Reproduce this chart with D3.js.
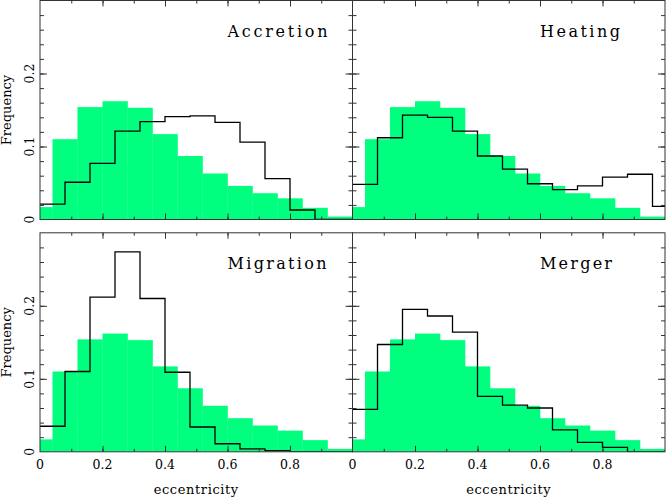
<!DOCTYPE html>
<html>
<head>
<meta charset="utf-8">
<script src="https://cdn.jsdelivr.net/npm/d3@7"></script>
<style>
  html, body { margin: 0; padding: 0; background: #fff; }
  svg { display: block; }
  text { font-family: "DejaVu Serif", "Liberation Serif", serif; fill: #000; }
</style>
</head>
<body>
<svg id="chart" width="667" height="500"></svg>
<script>
// ---- data ----
const greenBinCenters = [0, 0.08, 0.16, 0.24, 0.32, 0.40, 0.48, 0.56, 0.64, 0.72, 0.80, 0.88, 0.96];
const greenFreq = [0.017, 0.110, 0.154, 0.162, 0.153, 0.117, 0.087, 0.063, 0.046, 0.036, 0.029, 0.016, 0.004];

const lineBinStarts = [0, 0.08, 0.16, 0.24, 0.32, 0.40, 0.48, 0.56, 0.64, 0.72, 0.80, 0.88, 0.96];
const accretionFreq = [0.021, 0.051, 0.077, 0.121, 0.134, 0.141, 0.142, 0.133, 0.106, 0.056, 0.013, 0, 0];
const heatingFreq   = [0.048, 0.112, 0.143, 0.140, 0.121, 0.087, 0.069, 0.049, 0.041, 0.046, 0.058, 0.062, 0.018];
const migrationFreq = [0.035, 0.110, 0.212, 0.274, 0.210, 0.109, 0.034, 0.011, 0.004, 0.0015, 0, 0, 0];
const mergerFreq    = [0.058, 0.147, 0.195, 0.186, 0.164, 0.076, 0.064, 0.060, 0.030, 0.013, 0.006, 0, 0];

const panelNames = ["Accretion", "Heating", "Migration", "Merger"];
const panelSeries = [accretionFreq, heatingFreq, migrationFreq, mergerFreq];

const xTickLabels = [0, 0.2, 0.4, 0.6, 0.8];
const yTickLabels = [0, 0.1, 0.2];
const xLabel = "eccentricity";
const yLabel = "Frequency";

// ---- layout ----
const svg = d3.select("#chart");
const colX = [40, 352.5];
const rowY = [0.5, 232.8];
const pw = 312.5, ph = 219;
const labelWidths = {"Accretion": 100, "Heating": 80, "Migration": 99, "Merger": 72};

panelNames.forEach((name, i) => {
  const col = i % 2, row = Math.floor(i / 2);
  const x = d3.scaleLinear().domain([0, 1]).range([colX[col], colX[col] + pw]);
  const y = d3.scaleLinear().domain([0, 0.3]).range([rowY[row] + ph, rowY[row]]);
  const g = svg.append("g");

  const clipId = "clip" + i;
  svg.append("clipPath").attr("id", clipId).append("rect")
    .attr("x", x(0)).attr("y", y(0.3)).attr("width", pw).attr("height", ph);

  // green histogram
  g.append("g").attr("clip-path", `url(#${clipId})`)
    .selectAll("rect").data(greenBinCenters.map((c, k) => ({c, v: greenFreq[k]})))
    .join("rect")
    .attr("x", d => x(Math.max(0, d.c - 0.04)))
    .attr("width", d => x(Math.min(1, d.c + 0.04)) - x(Math.max(0, d.c - 0.04)) + 0.3)
    .attr("y", d => y(d.v))
    .attr("height", d => y(0) - y(d.v))
    .attr("fill", "#00ff7f");

  // black step line
  const vals = panelSeries[i];
  const pts = lineBinStarts.map((s, k) => [s, vals[k]]);
  pts.push([1, vals[vals.length - 1]]);
  g.append("path")
    .attr("clip-path", `url(#${clipId})`)
    .attr("d", d3.line().x(d => x(d[0])).y(d => y(d[1])).curve(d3.curveStepAfter)(pts))
    .attr("fill", "none").attr("stroke", "#000").attr("stroke-width", 1.3);

  // axes with inward ticks
  const axStyle = sel => {
    sel.select(".domain").remove();
    sel.selectAll(".tick line").attr("stroke", "#333").attr("stroke-width", 1);
    sel.selectAll("text").remove();
  };
  const xMinor = d3.range(0.1, 1.0, 0.1);
  const xMajor = [0.2, 0.4, 0.6, 0.8];
  const yMinor = d3.range(0.02, 0.3, 0.02);
  const yMajor = [0.1, 0.2];

  g.append("g").attr("transform", `translate(0,${y(0)})`)
    .call(d3.axisBottom(x).tickValues(xMinor).tickSizeInner(-3).tickSizeOuter(0)).call(axStyle);
  g.append("g").attr("transform", `translate(0,${y(0)})`)
    .call(d3.axisBottom(x).tickValues(xMajor).tickSizeInner(-6).tickSizeOuter(0)).call(axStyle);
  g.append("g").attr("transform", `translate(0,${y(0.3)})`)
    .call(d3.axisTop(x).tickValues(xMinor).tickSizeInner(-3).tickSizeOuter(0)).call(axStyle);
  g.append("g").attr("transform", `translate(0,${y(0.3)})`)
    .call(d3.axisTop(x).tickValues(xMajor).tickSizeInner(-6).tickSizeOuter(0)).call(axStyle);
  g.append("g").attr("transform", `translate(${x(0)},0)`)
    .call(d3.axisLeft(y).tickValues(yMinor).tickSizeInner(-4).tickSizeOuter(0)).call(axStyle);
  g.append("g").attr("transform", `translate(${x(0)},0)`)
    .call(d3.axisLeft(y).tickValues(yMajor).tickSizeInner(-7).tickSizeOuter(0)).call(axStyle);
  g.append("g").attr("transform", `translate(${x(1)},0)`)
    .call(d3.axisRight(y).tickValues(yMinor).tickSizeInner(-4).tickSizeOuter(0)).call(axStyle);
  g.append("g").attr("transform", `translate(${x(1)},0)`)
    .call(d3.axisRight(y).tickValues(yMajor).tickSizeInner(-7).tickSizeOuter(0)).call(axStyle);

  // frame
  g.append("rect").attr("x", x(0)).attr("y", y(0.3)).attr("width", pw).attr("height", ph)
    .attr("fill", "none").attr("stroke", "#333").attr("stroke-width", 1);

  // panel label
  g.append("text").attr("x", x(0.6)).attr("y", y(0.25))
    .attr("font-size", 16).attr("textLength", labelWidths[name]).attr("lengthAdjust", "spacing")
    .attr("fill", "#222")
    .text(name);

  // x tick labels on bottom row
  if (row === 1) {
    g.selectAll(".xtl").data(xTickLabels).join("text")
      .attr("x", d => x(d)).attr("y", y(0) + 17.5)
      .attr("text-anchor", "middle").attr("font-size", 12.5)
      .text(d => d3.format("")(d));
    g.append("text").attr("x", x(0.5)).attr("y", 494)
      .attr("text-anchor", "middle").attr("font-size", 13).attr("letter-spacing", 0.6)
      .text(xLabel);
  }
  // y tick labels on left column
  if (col === 0) {
    g.selectAll(".ytl").data(yTickLabels).join("text")
      .attr("transform", d => `translate(34,${y(d)}) rotate(-90)`)
      .attr("text-anchor", "middle").attr("font-size", 12.5)
      .text(d => d3.format("")(d));
    g.append("text")
      .attr("transform", `translate(10.5,${(y(0) + y(0.3)) / 2}) rotate(-90)`)
      .attr("text-anchor", "middle").attr("font-size", 13)
      .text(yLabel);
  }
});
</script>
</body>
</html>
